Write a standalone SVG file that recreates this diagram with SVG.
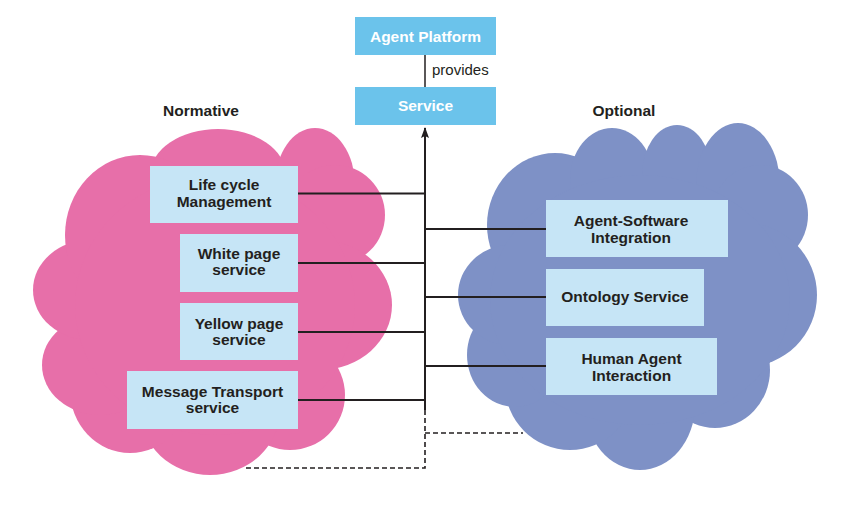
<svg xmlns="http://www.w3.org/2000/svg" width="856" height="520" viewBox="0 0 856 520">
<defs>
<style>
.pink{fill:#E76FA9}
.blue{fill:#7E91C6}
.top{fill:#6BC3EB}
.box{fill:#C6E5F6}
.wt{font-family:"Liberation Sans",Arial,sans-serif;font-weight:bold;font-size:15.5px;fill:#ffffff;text-anchor:middle}
.bt{font-family:"Liberation Sans",Arial,sans-serif;font-weight:bold;font-size:15.5px;fill:#231F20;text-anchor:middle}
.nt{font-family:"Liberation Sans",Arial,sans-serif;font-size:15px;fill:#231F20}
.ln{stroke:#231F20;stroke-width:2;fill:none}
.dl{stroke:#231F20;stroke-width:1.6;fill:none;stroke-dasharray:5 3}
</style>
<marker id="ah" markerWidth="8" markerHeight="12" refX="4" refY="1" orient="0" markerUnits="userSpaceOnUse">
<path d="M0,11 L4,0 L8,11 L4,9 Z" fill="#231F20"/>
</marker>
</defs>
<rect width="856" height="520" fill="#ffffff"/>

<g id="cloud-normative">
<ellipse class="pink" cx="218" cy="175" rx="68" ry="46"/>
<ellipse class="pink" cx="315" cy="185" rx="40" ry="57"/>
<ellipse class="pink" cx="335" cy="215" rx="50" ry="50"/>
<ellipse class="pink" cx="320" cy="305" rx="72" ry="65"/>
<ellipse class="pink" cx="290" cy="395" rx="55" ry="55"/>
<ellipse class="pink" cx="210" cy="410" rx="70" ry="65"/>
<ellipse class="pink" cx="130" cy="390" rx="60" ry="63"/>
<ellipse class="pink" cx="100" cy="365" rx="58" ry="50"/>
<ellipse class="pink" cx="90" cy="290" rx="57" ry="50"/>
<ellipse class="pink" cx="140" cy="235" rx="75" ry="80"/>
<ellipse class="pink" cx="215" cy="305" rx="140" ry="130"/>
<text class="bt" x="201" y="116">Normative</text>
</g>

<g id="cloud-optional">
<ellipse class="blue" cx="555" cy="225" rx="68" ry="72"/>
<ellipse class="blue" cx="612" cy="180" rx="42" ry="52"/>
<ellipse class="blue" cx="677" cy="175" rx="35" ry="50"/>
<ellipse class="blue" cx="738" cy="185" rx="42" ry="62"/>
<ellipse class="blue" cx="760" cy="215" rx="48" ry="50"/>
<ellipse class="blue" cx="745" cy="295" rx="72" ry="72"/>
<ellipse class="blue" cx="715" cy="370" rx="55" ry="58"/>
<ellipse class="blue" cx="640" cy="405" rx="55" ry="65"/>
<circle class="blue" cx="570" cy="385" r="65"/>
<ellipse class="blue" cx="515" cy="355" rx="48" ry="52"/>
<ellipse class="blue" cx="510" cy="295" rx="52" ry="50"/>
<ellipse class="blue" cx="640" cy="300" rx="150" ry="125"/>
<text class="bt" x="624" y="116">Optional</text>
</g>

<g id="connectors">
<line class="ln" x1="425" y1="55" x2="425" y2="87" style="stroke-width:1.5"/>
<line class="ln" x1="425" y1="410" x2="425" y2="128" marker-end="url(#ah)"/>
<path class="dl" d="M425,410 V468 H243"/>
<path class="dl" d="M425,433 H523"/>
<line class="ln" x1="298" y1="193.5" x2="425" y2="193.5"/>
<line class="ln" x1="298" y1="263" x2="425" y2="263"/>
<line class="ln" x1="298" y1="332" x2="425" y2="332"/>
<line class="ln" x1="298" y1="400" x2="425" y2="400"/>
<line class="ln" x1="425" y1="229" x2="546" y2="229"/>
<line class="ln" x1="425" y1="297" x2="546" y2="297"/>
<line class="ln" x1="425" y1="366" x2="546" y2="366"/>
</g>

<g id="agent-platform">
<rect class="top" x="355" y="17" width="141" height="38"/>
<text class="wt" x="425.5" y="42">Agent Platform</text>
</g>
<text class="nt" x="432" y="75">provides</text>
<g id="service">
<rect class="top" x="355" y="87" width="141" height="38"/>
<text class="wt" x="425.5" y="111">Service</text>
</g>

<g id="life-cycle">
<rect class="box" x="150" y="166" width="148" height="57"/>
<text class="bt" x="224" y="190">Life cycle</text>
<text class="bt" x="224" y="206.5">Management</text>
</g>
<g id="white-page">
<rect class="box" x="180" y="234" width="118" height="58"/>
<text class="bt" x="239" y="258.5">White page</text>
<text class="bt" x="239" y="274.5">service</text>
</g>
<g id="yellow-page">
<rect class="box" x="180" y="303" width="118" height="57"/>
<text class="bt" x="239" y="328.5">Yellow page</text>
<text class="bt" x="239" y="344.5">service</text>
</g>
<g id="message-transport">
<rect class="box" x="127" y="371" width="171" height="58"/>
<text class="bt" x="212.5" y="397">Message Transport</text>
<text class="bt" x="212.5" y="413">service</text>
</g>

<g id="agent-software">
<rect class="box" x="546" y="200" width="182" height="57"/>
<text class="bt" x="631" y="225.5">Agent-Software</text>
<text class="bt" x="631" y="242.5">Integration</text>
</g>
<g id="ontology">
<rect class="box" x="546" y="269" width="158" height="57"/>
<text class="bt" x="625" y="301.5">Ontology Service</text>
</g>
<g id="human-agent">
<rect class="box" x="546" y="338" width="171" height="57"/>
<text class="bt" x="631.5" y="363.5">Human Agent</text>
<text class="bt" x="631.5" y="380.5">Interaction</text>
</g>
</svg>
